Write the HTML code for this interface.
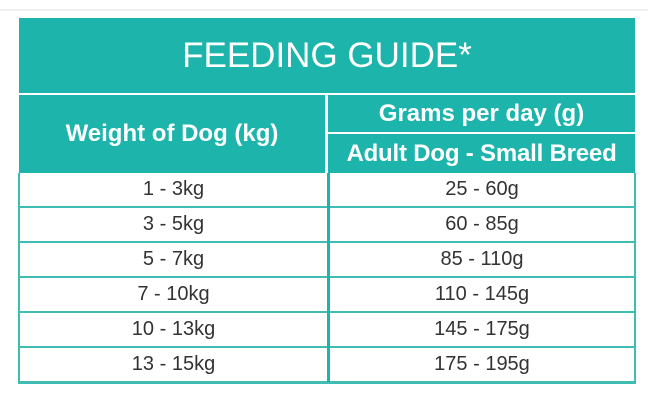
<!DOCTYPE html>
<html><head><meta charset="utf-8"><style>
body{margin:0;width:648px;height:400px;background:#fff;position:relative;overflow:hidden;font-family:"Liberation Sans",sans-serif}
.a{position:absolute;box-sizing:border-box}
.t{background:#1db4ab;color:#fff;display:flex;align-items:center;justify-content:center}
.c{display:flex;align-items:center;justify-content:center;color:#333;font-size:20px;border-bottom:2px solid #3fbdb5}
</style></head><body>
<div class="a" style="left:0;top:9px;width:648px;height:2px;background:#f0f0f0"></div>
<div class="a t" style="left:19px;top:18px;width:616px;height:75px;font-size:35px">FEEDING GUIDE*</div>
<div class="a t" style="left:19px;top:95px;width:306px;height:78px;font-size:24px;font-weight:bold">Weight of Dog (kg)</div>
<div class="a t" style="left:328px;top:95px;width:307px;height:37px;font-size:24px;font-weight:bold">Grams per day (g)</div>
<div class="a t" style="left:328px;top:134px;width:307px;height:39px;font-size:24px;font-weight:bold;letter-spacing:-0.2px">Adult Dog - Small Breed</div>
<div class="a" style="left:18px;top:173px;width:618px;height:211px;border:2px solid #3fbdb5;border-top:none">
<div id="rows"></div>
<div class="a" style="left:307px;top:0;width:3px;height:209px;background:#1db4ab"></div>
</div>
<script>
const weights=["1 - 3kg","3 - 5kg","5 - 7kg","7 - 10kg","10 - 13kg","13 - 15kg"];
const grams=["25 - 60g","60 - 85g","85 - 110g","110 - 145g","145 - 175g","175 - 195g"];
const rows=document.getElementById('rows');
weights.forEach((w,i)=>{
 const l=document.createElement('div');l.className='a c';
 
 
 l.style.cssText=`left:0;top:${i*35}px;width:307px;height:35px`;
 l.textContent=w;rows.appendChild(l);
 const r=document.createElement('div');r.className='a c';
 
 
 r.style.cssText=`left:310px;top:${i*35}px;width:304px;height:35px`;
 r.textContent=grams[i];rows.appendChild(r);
});
</script>
</body></html>
